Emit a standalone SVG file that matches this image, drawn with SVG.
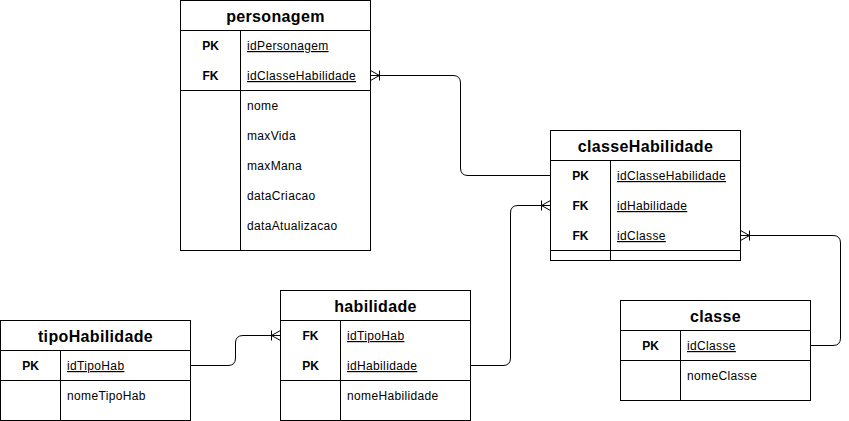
<svg xmlns="http://www.w3.org/2000/svg" width="849" height="421" viewBox="0 0 849 421">
<style>
.box{fill:#ffffff;stroke:#000000;stroke-width:1}
.ln{stroke:#000000;stroke-width:1;fill:none}
.title{font-family:"Liberation Sans",Arial,Helvetica,sans-serif;font-size:16px;font-weight:bold;text-anchor:middle;fill:#000000;letter-spacing:0.35px}
.key{font-family:"Liberation Sans",Arial,Helvetica,sans-serif;font-size:12px;font-weight:bold;text-anchor:middle;fill:#000000}
.fld{font-family:"Liberation Sans",Arial,Helvetica,sans-serif;font-size:12px;fill:#000000;letter-spacing:0.35px}
.u{text-decoration:underline}
.edge{stroke:#000000;stroke-width:1;fill:none;marker-end:url(#crow)}
</style>
<defs>
<marker id="crow" markerWidth="12" markerHeight="12" refX="10" refY="6" orient="auto" markerUnits="userSpaceOnUse" viewBox="0 0 12 12" overflow="visible">
<path d="M10,1 L1,6 L10,11 M1,1 L1,11" fill="none" stroke="#000000" stroke-width="1"/>
</marker>
</defs>
<rect width="849" height="421" fill="#ffffff"/>

<g id="personagem">
<rect class="box" x="180.5" y="0.5" width="190" height="250"/>
<path class="ln" d="M180.5,30.5 H370.5 M240.5,30.5 V250.5 M180.5,90.5 H370.5"/>
<text class="title" x="275.5" y="22">personagem</text>
<text class="key" x="210.5" y="50">PK</text>
<text class="fld u" x="247" y="50">idPersonagem</text>
<text class="key" x="210.5" y="80">FK</text>
<text class="fld u" x="247" y="80">idClasseHabilidade</text>
<text class="fld" x="247" y="110">nome</text>
<text class="fld" x="247" y="140">maxVida</text>
<text class="fld" x="247" y="170">maxMana</text>
<text class="fld" x="247" y="200">dataCriacao</text>
<text class="fld" x="247" y="230">dataAtualizacao</text>
</g>

<g id="classeHabilidade">
<rect class="box" x="550.5" y="130.5" width="190" height="130"/>
<path class="ln" d="M550.5,160.5 H740.5 M610.5,160.5 V260.5 M550.5,250.5 H740.5"/>
<text class="title" x="645.5" y="152">classeHabilidade</text>
<text class="key" x="580.5" y="180">PK</text>
<text class="fld u" x="617" y="180">idClasseHabilidade</text>
<text class="key" x="580.5" y="210">FK</text>
<text class="fld u" x="617" y="210">idHabilidade</text>
<text class="key" x="580.5" y="240">FK</text>
<text class="fld u" x="617" y="240">idClasse</text>
</g>

<g id="habilidade">
<rect class="box" x="280.5" y="290.5" width="190" height="130"/>
<path class="ln" d="M280.5,320.5 H470.5 M340.5,320.5 V420.5 M280.5,380.5 H470.5"/>
<text class="title" x="375.5" y="312">habilidade</text>
<text class="key" x="310.5" y="340">FK</text>
<text class="fld u" x="347" y="340">idTipoHab</text>
<text class="key" x="310.5" y="370">PK</text>
<text class="fld u" x="347" y="370">idHabilidade</text>
<text class="fld" x="347" y="400">nomeHabilidade</text>
</g>

<g id="tipoHabilidade">
<rect class="box" x="0.5" y="320.5" width="190" height="100"/>
<path class="ln" d="M0.5,350.5 H190.5 M60.5,350.5 V420.5 M0.5,380.5 H190.5"/>
<text class="title" x="95.5" y="342">tipoHabilidade</text>
<text class="key" x="30.5" y="370">PK</text>
<text class="fld u" x="67" y="370">idTipoHab</text>
<text class="fld" x="67" y="400">nomeTipoHab</text>
</g>

<g id="classe">
<rect class="box" x="620.5" y="300.5" width="190" height="100"/>
<path class="ln" d="M620.5,330.5 H810.5 M680.5,330.5 V400.5 M620.5,360.5 H810.5"/>
<text class="title" x="715.5" y="322">classe</text>
<text class="key" x="650.5" y="350">PK</text>
<text class="fld u" x="687" y="350">idClasse</text>
<text class="fld" x="687" y="380">nomeClasse</text>
</g>

<g id="connectors">
<path class="edge" d="M550.5,175.5 L468,175.5 Q460.5,175.5 460.5,168 L460.5,83 Q460.5,75.5 453,75.5 L370.5,75.5"/>
<path class="edge" d="M470.5,365.5 L503,365.5 Q510.5,365.5 510.5,358 L510.5,213 Q510.5,205.5 518,205.5 L550.5,205.5"/>
<path class="edge" d="M810.5,345.5 L833,345.5 Q840.5,345.5 840.5,338 L840.5,243 Q840.5,235.5 833,235.5 L740.5,235.5"/>
<path class="edge" d="M190.5,365.5 L228,365.5 Q235.5,365.5 235.5,358 L235.5,343 Q235.5,335.5 243,335.5 L280.5,335.5"/>
</g>
</svg>
